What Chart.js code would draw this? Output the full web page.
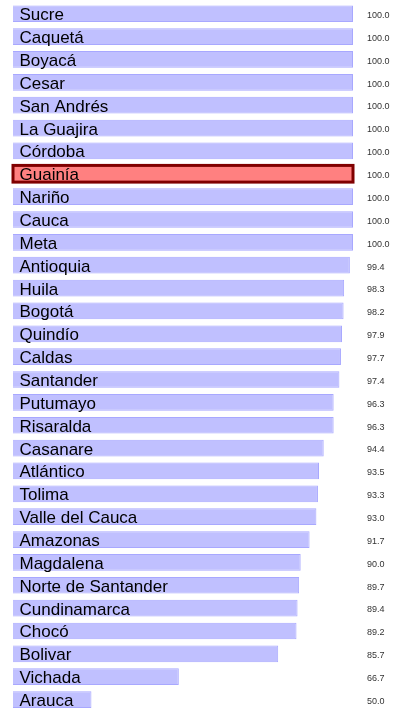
<!DOCTYPE html>
<html>
<head>
<meta charset="utf-8">
<script src="https://cdn.jsdelivr.net/npm/chart.js@4/dist/chart.umd.min.js"></script>
<style>
  html, body { margin: 0; padding: 0; background: #fff; overflow: hidden; }
  canvas { display: block; }
</style>
</head>
<body>
<canvas id="coverageChart" width="393" height="711"></canvas>
<script>
const departments = [
  'Sucre', 'Caquetá', 'Boyacá', 'Cesar', 'San Andrés', 'La Guajira', 'Córdoba', 'Guainía',
  'Nariño', 'Cauca', 'Meta', 'Antioquia', 'Huila', 'Bogotá', 'Quindío', 'Caldas',
  'Santander', 'Putumayo', 'Risaralda', 'Casanare', 'Atlántico', 'Tolima', 'Valle del Cauca',
  'Amazonas', 'Magdalena', 'Norte de Santander', 'Cundinamarca', 'Chocó', 'Bolivar',
  'Vichada', 'Arauca'
];
const coverage = [
  100.0, 100.0, 100.0, 100.0, 100.0, 100.0, 100.0, 100.0,
  100.0, 100.0, 100.0, 99.4, 98.3, 98.2, 97.9, 97.7,
  97.4, 96.3, 96.3, 94.4, 93.5, 93.3, 93.0,
  91.7, 90.0, 89.7, 89.4, 89.2, 85.7,
  66.7, 50.0
];
const highlighted = 'Guainía';

const fills = departments.map((d) => (d === highlighted ? '#ff8080' : '#c0c0ff'));
const borders = departments.map((d) => (d === highlighted ? '#ff8080' : '#a8a8ff'));

// thick outline around the highlighted bar, centred on its edges
const highlightOutline = {
  id: 'highlightOutline',
  afterDatasetsDraw(chart) {
    const { ctx, chartArea } = chart;
    const i = departments.indexOf(highlighted);
    const bar = chart.getDatasetMeta(0).data[i];
    const left = Math.max(bar.base, chartArea.left);
    const w = bar.x - left;
    ctx.save();
    ctx.strokeStyle = '#800000';
    ctx.lineWidth = 3;
    ctx.strokeRect(left, bar.y - bar.height / 2, w, bar.height);
    ctx.restore();
  },
};

// names inside the bars, values in a column on the right
const barText = {
  id: 'barText',
  afterDatasetsDraw(chart) {
    const { ctx } = chart;
    const meta = chart.getDatasetMeta(0);
    ctx.save();
    ctx.textBaseline = 'alphabetic';
    ctx.textAlign = 'left';
    meta.data.forEach((bar, i) => {
      ctx.fillStyle = '#000';
      ctx.font = '17px "Liberation Sans", Arial, sans-serif';
      ctx.fillText(departments[i], 19.5, bar.y + 6.5);
      ctx.fillStyle = '#333';
      ctx.font = '9px "Liberation Sans", Arial, sans-serif';
      ctx.fillText(coverage[i].toFixed(1), 367, bar.y + 4.3);
    });
    ctx.restore();
  },
};

const ctx = document.getElementById('coverageChart').getContext('2d');
new Chart(ctx, {
  type: 'bar',
  data: {
    labels: departments,
    datasets: [{
      data: coverage,
      backgroundColor: fills,
      borderColor: borders,
      borderWidth: 1,
      borderSkipped: false,
      categoryPercentage: 1,
      barPercentage: 0.73,
    }],
  },
  options: {
    indexAxis: 'y',
    responsive: false,
    animation: false,
    layout: { padding: { left: 13, right: 40, top: 2.3, bottom: 0 } },
    plugins: { legend: { display: false }, tooltip: { enabled: false } },
    scales: {
      x: { display: false, min: 35, max: 100 },
      y: { display: false },
    },
  },
  plugins: [highlightOutline, barText],
});
</script>
</body>
</html>
